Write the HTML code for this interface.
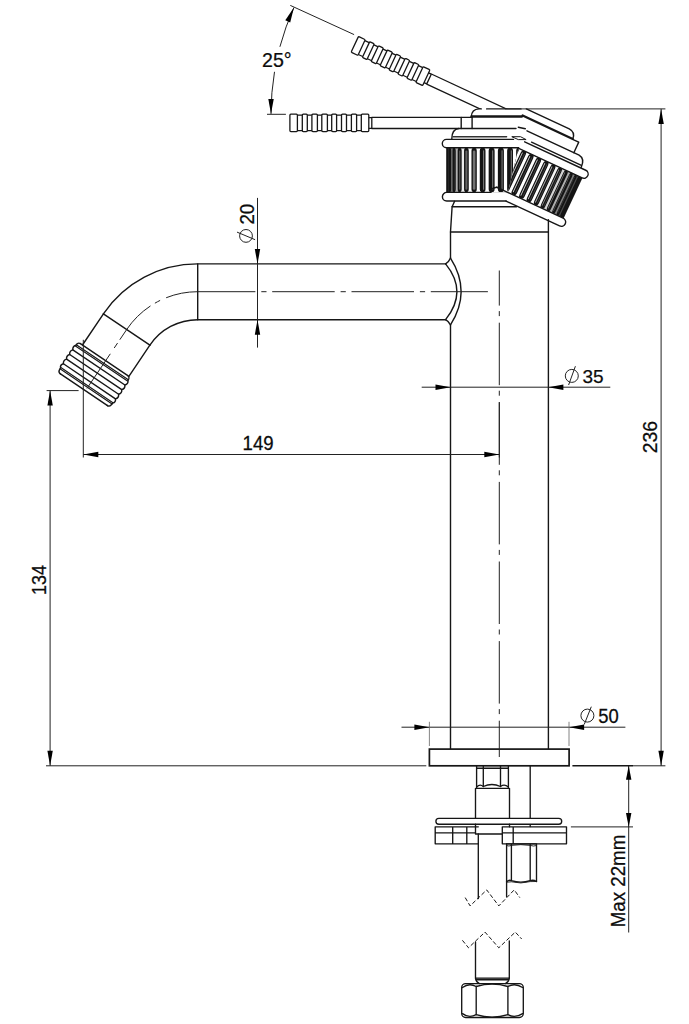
<!DOCTYPE html>
<html><head><meta charset="utf-8"><title>Faucet drawing</title>
<style>html,body{margin:0;padding:0;background:#fff;}svg{display:block;}text{font-family:"Liberation Sans",sans-serif;}</style>
</head><body>
<svg width="689" height="1024" viewBox="0 0 689 1024">
<rect width="689" height="1024" fill="#fff"/>
<defs>
<clipPath id="cpH"><rect x="0" y="0" width="689" height="109"/></clipPath>
<clipPath id="cpK1"><polygon points="440,147.8 518.6,147.8 507.9,192.6 440,192.6"/></clipPath>
<clipPath id="cpK2"><polygon points="518.6,140 620,140 620,250 507.9,250 507.9,192.6 518.6,147.8"/></clipPath>
<clipPath id="cpK2r"><polygon points="482.07,147.43 570.67,97.51 621.39,206.26 519.79,253.64 491.31,192.55"/></clipPath></defs>
<g fill="none" stroke="#161616" stroke-width="1.4" stroke-linecap="round" stroke-linejoin="round">
<path d="M454.6,201.3 L452.1,206.7 H516.5"/>
<path d="M452.1,206.7 L450.5,232 V258.1"/>
<path d="M450.5,324.9 V749.1"/>
<path d="M548.4,219.8 V749.1"/>
<path d="M450.5,232 H548.4"/>
<path d="M450.5,258.1 Q471.7,291.5 450.5,324.9"/>
<path d="M445.6,263.9 Q468.2,291.7 445.6,319.6"/>
<path d="M445.6,263.9 Q449,262 450.5,258.1"/>
<path d="M445.6,319.6 Q449,321.5 450.5,324.9"/>
<path d="M445.6,263.9 H197.7 A113.7,113.7 0 0 0 103.4,313.8"/>
<path d="M445.6,319.7 H197.7 A57.7,57.7 0 0 0 149.9,345.2"/>
<path d="M197.7,263.9 V319.7"/>
<path d="M103.4,313.8 L149.9,345.2"/>
</g>
<rect x="429.4" y="749.1" width="139.7" height="16.7" fill="#fff" stroke="#161616" stroke-width="1.7"/>
<g fill="none" stroke="#161616" stroke-width="1.4" stroke-linecap="round" stroke-linejoin="round">
<path d="M103.44,313.92 L82.47,345.01"/>
<path d="M149.86,345.23 L128.89,376.32"/>
<path d="M80.40,343.61 Q78.74,342.49 77.12,343.81 L75.95,345.20 Q72.39,346.17 72.82,349.84 Q69.26,350.82 69.69,354.48 Q66.13,355.46 66.56,359.12 Q63.00,360.10 63.42,363.77 Q59.98,364.58 60.52,368.08 L59.34,370.18 Q58.19,372.42 60.51,373.98"/>
<path d="M127.82,375.60 Q129.48,376.71 128.85,378.71 L128.01,380.31 Q128.44,383.98 124.88,384.96 Q125.31,388.62 121.75,389.60 Q122.17,393.26 118.62,394.24 Q119.04,397.90 115.49,398.88 Q116.02,402.38 112.58,403.19 L111.07,405.07 Q109.43,406.98 107.10,405.41"/>
<path d="M80.40,343.61 L127.82,375.60"/>
<path d="M76.29,344.70 L128.35,379.82" stroke-width="1.1"/>
<path d="M75.45,345.94 L127.51,381.06" stroke-width="1.1"/>
<path d="M72.82,349.84 L124.88,384.96"/>
<path d="M69.69,354.48 L121.75,389.60"/>
<path d="M66.56,359.12 L118.62,394.24"/>
<path d="M63.42,363.77 L115.49,398.88"/>
<path d="M60.85,367.58 L112.92,402.70" stroke-width="1.1"/>
<path d="M60.01,368.82 L112.08,403.94" stroke-width="1.1"/>
<path d="M60.10,373.70 L107.52,405.69"/>
</g>
<g fill="none" stroke="#222" stroke-width="1.0">
<path d="M487.9,291.7 H197.7" stroke-dasharray="62.5 5.7 5.2 5.9" stroke-dashoffset="5.4"/>
<path d="M197.7,291.7 A85.7,85.7 0 0 0 126.65,329.58 L86.95,388.44" stroke-dasharray="32.3 6.6 5.9 5.2 46 4 6 7 60"/>
<path d="M499.3,270.5 V757" stroke-dasharray="62.5 5.5 5 6.6" stroke-dashoffset="27.4"/>
</g>
<g clip-path="url(#cpK1)"><rect x="446.20" y="147.80" width="106.40" height="44.50" fill="#141414"/>
<path d="M446.17,147.80 Q446.39,148.10 446.39,150.80 V189.30 Q446.39,192.00 446.17,192.30 H446.99 Q446.76,192.00 446.76,189.30 V150.80 Q446.76,148.10 446.99,147.80 Z" fill="#fff" fill-opacity="0.00"/>
<path d="M447.42,147.80 Q447.98,148.10 447.98,150.80 V189.30 Q447.98,192.00 447.42,192.30 H449.46 Q448.91,192.00 448.91,189.30 V150.80 Q448.91,148.10 449.46,147.80 Z" fill="#fff" fill-opacity="0.08"/>
<path d="M450.25,147.80 Q451.13,148.10 451.13,150.80 V189.30 Q451.13,192.00 450.25,192.30 H453.45 Q452.58,192.00 452.58,189.30 V150.80 Q452.58,148.10 453.45,147.80 Z" fill="#fff" fill-opacity="0.39"/>
<path d="M454.58,147.80 Q455.74,148.10 455.74,150.80 V189.30 Q455.74,192.00 454.58,192.30 H458.84 Q457.68,192.00 457.68,189.30 V150.80 Q457.68,148.10 458.84,147.80 Z" fill="#fff" fill-opacity="0.67"/>
<path d="M460.27,147.80 Q461.68,148.10 461.68,150.80 V189.30 Q461.68,192.00 460.27,192.30 H465.46 Q464.04,192.00 464.04,189.30 V150.80 Q464.04,148.10 465.46,147.80 Z" fill="#fff" fill-opacity="0.92"/>
<path d="M467.17,147.80 Q468.77,148.10 468.77,150.80 V189.30 Q468.77,192.00 467.17,192.30 H473.08 Q471.48,192.00 471.48,189.30 V150.80 Q471.48,148.10 473.08,147.80 Z" fill="#fff" fill-opacity="1.00"/>
<path d="M475.19,147.80 Q476.79,148.10 476.79,150.80 V189.30 Q476.79,192.00 475.19,192.30 H481.37 Q479.77,192.00 479.77,189.30 V150.80 Q479.77,148.10 481.37,147.80 Z" fill="#fff" fill-opacity="1.00"/>
<path d="M483.90,147.80 Q485.50,148.10 485.50,150.80 V189.30 Q485.50,192.00 483.90,192.30 H490.26 Q488.66,192.00 488.66,189.30 V150.80 Q488.66,148.10 490.26,147.80 Z" fill="#fff" fill-opacity="1.00"/>
<path d="M493.02,147.80 Q494.62,148.10 494.62,150.80 V189.30 Q494.62,192.00 493.02,192.30 H499.47 Q497.87,192.00 497.87,189.30 V150.80 Q497.87,148.10 499.47,147.80 Z" fill="#fff" fill-opacity="1.00"/>
<path d="M502.30,147.80 Q503.90,148.10 503.90,150.80 V189.30 Q503.90,192.00 502.30,192.30 H508.73 Q507.13,192.00 507.13,189.30 V150.80 Q507.13,148.10 508.73,147.80 Z" fill="#fff" fill-opacity="1.00"/>
<path d="M511.43,147.80 Q513.03,148.10 513.03,150.80 V189.30 Q513.03,192.00 511.43,192.30 H517.75 Q516.15,192.00 516.15,189.30 V150.80 Q516.15,148.10 517.75,147.80 Z" fill="#fff" fill-opacity="1.00"/>
<path d="M520.16,147.80 Q521.76,148.10 521.76,150.80 V189.30 Q521.76,192.00 520.16,192.30 H526.26 Q524.66,192.00 524.66,189.30 V150.80 Q524.66,148.10 526.26,147.80 Z" fill="#fff" fill-opacity="1.00"/>
<path d="M528.23,147.80 Q529.80,148.10 529.80,150.80 V189.30 Q529.80,192.00 528.23,192.30 H533.97 Q532.41,192.00 532.41,189.30 V150.80 Q532.41,148.10 533.97,147.80 Z" fill="#fff" fill-opacity="1.00"/>
<path d="M535.58,147.80 Q536.92,148.10 536.92,150.80 V189.30 Q536.92,192.00 535.58,192.30 H540.49 Q539.15,192.00 539.15,189.30 V150.80 Q539.15,148.10 540.49,147.80 Z" fill="#fff" fill-opacity="0.84"/>
<path d="M541.83,147.80 Q542.90,148.10 542.90,150.80 V189.30 Q542.90,192.00 541.83,192.30 H545.76 Q544.69,192.00 544.69,189.30 V150.80 Q544.69,148.10 545.76,147.80 Z" fill="#fff" fill-opacity="0.58"/>
<path d="M546.78,147.80 Q547.56,148.10 547.56,150.80 V189.30 Q547.56,192.00 546.78,192.30 H549.62 Q548.85,192.00 548.85,189.30 V150.80 Q548.85,148.10 549.62,147.80 Z" fill="#fff" fill-opacity="0.29"/>
<path d="M550.30,147.80 Q550.75,148.10 550.75,150.80 V189.30 Q550.75,192.00 550.30,192.30 H551.96 Q551.50,192.00 551.50,189.30 V150.80 Q551.50,148.10 551.96,147.80 Z" fill="#fff" fill-opacity="0.00"/>
<path d="M552.27,147.80 Q552.39,148.10 552.39,150.80 V189.30 Q552.39,192.00 552.27,192.30 H552.69 Q552.58,192.00 552.58,189.30 V150.80 Q552.58,148.10 552.69,147.80 Z" fill="#fff" fill-opacity="0.00"/>
<rect x="453.93" y="150.40" width="0.46" height="39.30" rx="0.23" fill="rgb(61,61,61)"/>
<rect x="459.03" y="150.40" width="1.30" height="39.30" rx="0.65" fill="rgb(82,82,82)"/>
<rect x="465.39" y="150.40" width="2.03" height="39.30" rx="1.01" fill="rgb(100,100,100)"/>
<rect x="472.83" y="150.40" width="2.61" height="39.30" rx="1.30" fill="rgb(115,115,115)"/>
<rect x="483.37" y="150.40" width="0.7" height="39.30" fill="#fff" fill-opacity="0.65"/>
<rect x="492.42" y="150.40" width="0.7" height="39.30" fill="#fff" fill-opacity="0.65"/>
<rect x="501.68" y="150.40" width="0.7" height="39.30" fill="#fff" fill-opacity="0.65"/>
<rect x="510.85" y="150.40" width="0.7" height="39.30" fill="#fff" fill-opacity="0.65"/>
<rect x="519.67" y="150.40" width="0.7" height="39.30" fill="#fff" fill-opacity="0.65"/>
<rect x="526.01" y="150.40" width="2.44" height="39.30" rx="1.22" fill="rgb(110,110,110)"/>
<rect x="533.76" y="150.40" width="1.81" height="39.30" rx="0.91" fill="rgb(95,95,95)"/>
<rect x="540.50" y="150.40" width="1.05" height="39.30" rx="0.52" fill="rgb(76,76,76)"/></g>
<g fill="none" stroke="#161616" stroke-width="1.4" stroke-linecap="round" stroke-linejoin="round">
<path d="M471.4,116.6 Q471.6,109.3 479,108.9 H481.3 M486.6,108.9 H521"/>
<path d="M471.4,116.5 H522" stroke-width="2.3"/>
<path d="M472.1,116.6 V128.5"/>
<path d="M461.2,117.4 V128.5"/>
<path d="M371.8,117.4 H472.1"/>
<path d="M371.8,128.5 H516"/>
<path d="M451.8,138.8 Q451.9,129.2 458.8,128.5"/>
<path d="M453,136.8 H506.6" stroke="#333"/>
<path d="M513.5,139.4 H446.5 A4.2,4.2 0 0 0 446.5,147.8 H518.6"/>
<path d="M490.8,192.4 H446.7 A4.3,4.3 0 0 0 446.7,201 H506.1"/>
<path d="M490.8,192.4 Q489.6,188.4 496.8,187.2"/>
<path d="M512.2,136.7 H520.5 L526.1,139.6 H518.7 Z" stroke-width="1"/>
<path d="M518.3,127.2 L525.3,128.7"/>
</g>
<g fill="none" stroke="#161616" stroke-width="1.3" stroke-linejoin="round"><path d="M297.4,115.2 H361.3 M297.4,130.6 H361.3"/>
<rect x="289.9" y="114.2" width="7.50" height="17.4" rx="1.0" fill="#fff"/>
<rect x="302.3" y="114.2" width="5.00" height="17.4" rx="1.0" fill="#fff"/>
<rect x="311.9" y="114.2" width="5.50" height="17.4" rx="1.0" fill="#fff"/>
<rect x="321.8" y="114.2" width="5.60" height="17.4" rx="1.0" fill="#fff"/>
<rect x="331.7" y="114.2" width="4.90" height="17.4" rx="1.0" fill="#fff"/>
<rect x="341.5" y="114.2" width="5.00" height="17.4" rx="1.0" fill="#fff"/>
<rect x="351.4" y="114.2" width="5.20" height="17.4" rx="1.0" fill="#fff"/>
<rect x="361.3" y="114.2" width="7.50" height="17.4" rx="1.0" fill="#fff"/>
<path d="M368.8,117.6 H371.8 V128.3 H368.8"/></g>
<g transform="rotate(25 499.5 230.0)">
<g clip-path="url(#cpK2r)"><rect x="446.30" y="147.80" width="106.40" height="44.50" fill="#141414"/>
<path d="M446.25,147.80 Q446.30,148.10 446.30,150.80 V189.30 Q446.30,192.00 446.25,192.30 H446.44 Q446.39,192.00 446.39,189.30 V150.80 Q446.39,148.10 446.44,147.80 Z" fill="#fff" fill-opacity="0.00"/>
<path d="M446.69,147.80 Q447.00,148.10 447.00,150.80 V189.30 Q447.00,192.00 446.69,192.30 H447.83 Q447.52,192.00 447.52,189.30 V150.80 Q447.52,148.10 447.83,147.80 Z" fill="#fff" fill-opacity="0.00"/>
<path d="M448.42,147.80 Q448.99,148.10 448.99,150.80 V189.30 Q448.99,192.00 448.42,192.30 H450.50 Q449.93,192.00 449.93,189.30 V150.80 Q449.93,148.10 450.50,147.80 Z" fill="#fff" fill-opacity="0.08"/>
<path d="M451.42,147.80 Q452.23,148.10 452.23,150.80 V189.30 Q452.23,192.00 451.42,192.30 H454.37 Q453.57,192.00 453.57,189.30 V150.80 Q453.57,148.10 454.37,147.80 Z" fill="#fff" fill-opacity="0.32"/>
<path d="M455.60,147.80 Q456.62,148.10 456.62,150.80 V189.30 Q456.62,192.00 455.60,192.30 H459.36 Q458.33,192.00 458.33,189.30 V150.80 Q458.33,148.10 459.36,147.80 Z" fill="#fff" fill-opacity="0.53"/>
<path d="M460.86,147.80 Q462.08,148.10 462.08,150.80 V189.30 Q462.08,192.00 460.86,192.30 H465.33 Q464.11,192.00 464.11,189.30 V150.80 Q464.11,148.10 465.33,147.80 Z" fill="#fff" fill-opacity="0.72"/>
<path d="M467.07,147.80 Q468.46,148.10 468.46,150.80 V189.30 Q468.46,192.00 467.07,192.30 H472.14 Q470.76,192.00 470.76,189.30 V150.80 Q470.76,148.10 472.14,147.80 Z" fill="#fff" fill-opacity="0.88"/>
<path d="M474.08,147.80 Q475.60,148.10 475.60,150.80 V189.30 Q475.60,192.00 474.08,192.30 H479.63 Q478.12,192.00 478.12,189.30 V150.80 Q478.12,148.10 479.63,147.80 Z" fill="#fff" fill-opacity="1.00"/>
<path d="M481.73,147.80 Q483.33,148.10 483.33,150.80 V189.30 Q483.33,192.00 481.73,192.30 H487.60 Q486.00,192.00 486.00,189.30 V150.80 Q486.00,148.10 487.60,147.80 Z" fill="#fff" fill-opacity="1.00"/>
<path d="M489.85,147.80 Q491.45,148.10 491.45,150.80 V189.30 Q491.45,192.00 489.85,192.30 H495.82 Q494.22,192.00 494.22,189.30 V150.80 Q494.22,148.10 495.82,147.80 Z" fill="#fff" fill-opacity="1.00"/>
<path d="M498.18,147.80 Q499.78,148.10 499.78,150.80 V189.30 Q499.78,192.00 498.18,192.30 H504.16 Q502.56,192.00 502.56,189.30 V150.80 Q502.56,148.10 504.16,147.80 Z" fill="#fff" fill-opacity="1.00"/>
<path d="M506.50,147.80 Q508.10,148.10 508.10,150.80 V189.30 Q508.10,192.00 506.50,192.30 H512.43 Q510.83,192.00 510.83,189.30 V150.80 Q510.83,148.10 512.43,147.80 Z" fill="#fff" fill-opacity="1.00"/>
<path d="M514.63,147.80 Q516.20,148.10 516.20,150.80 V189.30 Q516.20,192.00 514.63,192.30 H520.40 Q518.82,192.00 518.82,189.30 V150.80 Q518.82,148.10 520.40,147.80 Z" fill="#fff" fill-opacity="1.00"/>
<path d="M522.44,147.80 Q523.90,148.10 523.90,150.80 V189.30 Q523.90,192.00 522.44,192.30 H527.81 Q526.34,192.00 526.34,189.30 V150.80 Q526.34,148.10 527.81,147.80 Z" fill="#fff" fill-opacity="0.97"/>
<path d="M529.67,147.80 Q531.00,148.10 531.00,150.80 V189.30 Q531.00,192.00 529.67,192.30 H534.52 Q533.20,192.00 533.20,189.30 V150.80 Q533.20,148.10 534.52,147.80 Z" fill="#fff" fill-opacity="0.82"/>
<path d="M536.17,147.80 Q537.31,148.10 537.31,150.80 V189.30 Q537.31,192.00 536.17,192.30 H540.37 Q539.22,192.00 539.22,189.30 V150.80 Q539.22,148.10 540.37,147.80 Z" fill="#fff" fill-opacity="0.65"/>
<path d="M541.76,147.80 Q542.70,148.10 542.70,150.80 V189.30 Q542.70,192.00 541.76,192.30 H545.21 Q544.27,192.00 544.27,189.30 V150.80 Q544.27,148.10 545.21,147.80 Z" fill="#fff" fill-opacity="0.45"/>
<path d="M546.32,147.80 Q547.03,148.10 547.03,150.80 V189.30 Q547.03,192.00 546.32,192.30 H548.92 Q548.21,192.00 548.21,189.30 V150.80 Q548.21,148.10 548.92,147.80 Z" fill="#fff" fill-opacity="0.23"/>
<path d="M549.72,147.80 Q550.18,148.10 550.18,150.80 V189.30 Q550.18,192.00 549.72,192.30 H551.42 Q550.96,192.00 550.96,189.30 V150.80 Q550.96,148.10 551.42,147.80 Z" fill="#fff" fill-opacity="0.00"/>
<path d="M551.88,147.80 Q552.09,148.10 552.09,150.80 V189.30 Q552.09,192.00 551.88,192.30 H552.65 Q552.44,192.00 552.44,189.30 V150.80 Q552.44,148.10 552.65,147.80 Z" fill="#fff" fill-opacity="0.00"/>
<rect x="450.45" y="150.20" width="0.35" height="39.70" fill="#fff" fill-opacity="0.15"/>
<rect x="454.25" y="150.20" width="0.46" height="39.70" fill="#fff" fill-opacity="0.27"/>
<rect x="459.17" y="150.20" width="0.57" height="39.70" fill="#fff" fill-opacity="0.40"/>
<rect x="465.08" y="150.20" width="0.66" height="39.70" fill="#fff" fill-opacity="0.54"/>
<rect x="467.06" y="150.40" width="0.5" height="39.30" fill="#fff" fill-opacity="0.3"/>
<rect x="471.84" y="150.20" width="0.73" height="39.70" fill="#fff" fill-opacity="0.67"/>
<rect x="474.05" y="150.40" width="0.5" height="39.30" fill="#fff" fill-opacity="0.3"/>
<rect x="479.28" y="150.20" width="0.79" height="39.70" fill="#fff" fill-opacity="0.78"/>
<rect x="481.66" y="150.40" width="0.5" height="39.30" fill="#fff" fill-opacity="0.3"/>
<rect x="487.22" y="150.20" width="0.83" height="39.70" fill="#fff" fill-opacity="0.85"/>
<rect x="489.71" y="150.40" width="0.5" height="39.30" fill="#fff" fill-opacity="0.3"/>
<rect x="495.46" y="150.20" width="0.84" height="39.70" fill="#fff" fill-opacity="0.89"/>
<rect x="498.00" y="150.40" width="0.5" height="39.30" fill="#fff" fill-opacity="0.3"/>
<rect x="503.80" y="150.20" width="0.84" height="39.70" fill="#fff" fill-opacity="0.88"/>
<rect x="506.33" y="150.40" width="0.5" height="39.30" fill="#fff" fill-opacity="0.3"/>
<rect x="512.03" y="150.20" width="0.82" height="39.70" fill="#fff" fill-opacity="0.83"/>
<rect x="514.49" y="150.40" width="0.5" height="39.30" fill="#fff" fill-opacity="0.3"/>
<rect x="519.96" y="150.20" width="0.77" height="39.70" fill="#fff" fill-opacity="0.74"/>
<rect x="522.28" y="150.40" width="0.5" height="39.30" fill="#fff" fill-opacity="0.3"/>
<rect x="527.38" y="150.20" width="0.71" height="39.70" fill="#fff" fill-opacity="0.62"/>
<rect x="529.51" y="150.40" width="0.5" height="39.30" fill="#fff" fill-opacity="0.3"/>
<rect x="534.12" y="150.20" width="0.63" height="39.70" fill="#fff" fill-opacity="0.49"/>
<rect x="540.00" y="150.20" width="0.53" height="39.70" fill="#fff" fill-opacity="0.35"/>
<rect x="544.88" y="150.20" width="0.42" height="39.70" fill="#fff" fill-opacity="0.22"/></g>
<g fill="none" stroke="#161616" stroke-width="1.4" stroke-linecap="round" stroke-linejoin="round">
<path d="M472.6,108.9 H520 Q527.2,109.3 527.4,116.6"/>
<path d="M472.1,116.5 H527.4" stroke-width="2.3"/>
<path d="M527.4,116.9 H534.2 V128.5"/>
<path d="M482.5,128.5 H540 Q547,129.2 547.1,138.8"/>
<path d="M491.4,136.8 H546.4"/>
<path d="M485,139.4 H552.4 A4.2,4.2 0 0 1 552.4,147.8 H482.4"/>
<path d="M479,192.4 H552.2 A4.3,4.3 0 0 1 552.2,201 H493.2"/>
</g>
</g>
<g clip-path="url(#cpH)"><g transform="rotate(25 499.5 230.0)" fill="none" stroke="#161616" stroke-width="1.3" stroke-linejoin="round">
<path d="M297.4,115.2 H361.3 M297.4,130.6 H361.3"/>
<rect x="289.9" y="114.2" width="7.50" height="17.4" rx="1.0" fill="#fff"/>
<rect x="302.3" y="114.2" width="5.00" height="17.4" rx="1.0" fill="#fff"/>
<rect x="311.9" y="114.2" width="5.50" height="17.4" rx="1.0" fill="#fff"/>
<rect x="321.8" y="114.2" width="5.60" height="17.4" rx="1.0" fill="#fff"/>
<rect x="331.7" y="114.2" width="4.90" height="17.4" rx="1.0" fill="#fff"/>
<rect x="341.5" y="114.2" width="5.00" height="17.4" rx="1.0" fill="#fff"/>
<rect x="351.4" y="114.2" width="5.20" height="17.4" rx="1.0" fill="#fff"/>
<rect x="361.3" y="114.2" width="7.50" height="17.4" rx="1.0" fill="#fff"/>
<path d="M368.8,117.6 H371.8 V128.3 H368.8"/>
<path d="M371.8,117.4 H472.1 M371.8,128.5 H472"/>
</g></g>
<g fill="none" stroke="#161616" stroke-width="1.35" stroke-linejoin="round" stroke-linecap="round">
<path d="M476.6,765.9 V788.3 M508.4,765.9 V788.3 M483.3,765.9 V786.5 M500.5,765.9 V786.5"/>
<path d="M476.6,788.3 H508.4 M476.6,768.2 H508.4"/>
<path d="M476.6,787 Q480,783.6 483.3,786.5 Q491.9,782.6 500.5,786.5 Q504.4,783.6 508.4,787"/>
<path d="M475.5,788.3 V818.3 M509.5,788.3 V818.3"/>
<path d="M530.2,765.9 V826.6"/>
<rect x="435.9" y="818.3" width="125.8" height="5.9" rx="2.95" fill="#fff"/>
<path d="M478.3,826.8 H435.2 V843.8 H478.3 M435.2,832.9 H475.5 M452.7,826.8 V843.8 M466.8,826.8 V843.8"/>
<path d="M475.5,824.2 V834 H502.3 M509.5,824.2 V826.8"/>
<path d="M502.3,826.8 H566.5 V843.8 H502.3 Z M502.3,832.9 H566.5 M513.2,826.8 V843.8"/>
<path d="M478.3,834 V898.5 M506.6,843.8 V896.5"/>
<path d="M506.6,843.8 H536.5 V881.5 M511.4,843.8 V880.6 M530.2,843.8 V880.6"/>
<path d="M506.6,845.6 Q509,846.6 511.4,845.4 Q520.8,843.9 530.2,845.4 Q533.4,846.6 536.5,845.6" stroke-width="0.9"/>
<path d="M506.6,881.8 Q509,879.5 511.4,880.6 Q520.8,883.6 530.2,880.6 Q533.5,879.6 536.5,881.5"/>
<path d="M506.6,882.2 L511.4,881.8 Q520.8,884.2 530.2,881.6 L536.5,881.5" stroke-width="0.9"/>
<path d="M475.5,942 V978.1 M509.3,941 V978.1 M475.5,978.1 H509.3"/>
<path d="M475.5,978.1 Q476,982 479.5,983.6 M509.3,978.1 Q508.8,982 505.3,983.6"/>
<path d="M476.2,979.6 H508.6" stroke-width="1.6"/>
<rect x="461.7" y="983.6" width="61.6" height="33.9" rx="4" />
<path d="M476.2,986.5 V1014.6 M507.9,986.5 V1014.6"/>
<path d="M462.5,987.5 Q469,982.6 476.2,986.5 Q492,981.5 507.9,986.5 Q515,982.6 522.6,987.5"/>
<path d="M462.5,1013.6 Q469,1018.5 476.2,1014.6 Q492,1019.6 507.9,1014.6 Q515,1018.5 522.6,1013.6"/>
</g>
<g fill="none" stroke="#161616" stroke-width="1" stroke-dasharray="4.2 2.2">
<path d="M465.2,897.6 L470.1,905.9 L486.7,889.9 L498.8,905.9 L514.2,889.9 L519.8,897.6"/>
<path d="M462.4,940.3 L468.5,947.8 L485,932.1 L498.8,947.8 L515.3,932.1 L521.7,939"/>
</g>
<g fill="none" stroke="#222" stroke-width="1.0">
<path d="M505,108.9 H665.4"/>
<path d="M661.1,108.9 V765.8"/>
<path d="M633,765.8 H665.4"/>
<path d="M46.6,390.6 H78.6"/>
<path d="M50.1,390.6 V765.8"/>
<path d="M46,765.8 H426.3"/>
<path d="M83.3,339.8 V457.5"/>
<path d="M83.3,454.5 H499.3"/>
<path d="M499.3,402 V457.5"/>
<path d="M421.7,387.2 H610.3"/>
<path d="M401.5,727.2 H625.4"/>
<path d="M429.4,721.8 V746" stroke="#666" stroke-width="0.8"/>
<path d="M569,721.8 V746" stroke="#666" stroke-width="0.8"/>
<path d="M257.5,197.9 V347.6"/>
<path d="M628.7,765.8 V932.5"/>
<path d="M570.9,826.9 H633"/>
<path d="M290.3,5.4 L354.1,34.6"/>
<path d="M267,114.3 H285.9"/>
<path d="M293.9,7.6 A260,260 0 0 0 279.9,46.8"/>
<path d="M274.5,71.8 A260,260 0 0 0 271,113.9"/>
</g>
<path d="M572.4,765.8 H633" fill="none" stroke="#161616" stroke-width="1.5"/>
<polygon points="661.10,108.90 663.80,123.90 658.40,123.90" fill="#000"/>
<polygon points="661.10,765.80 658.40,750.80 663.80,750.80" fill="#000"/>
<polygon points="50.10,390.60 52.80,405.60 47.40,405.60" fill="#000"/>
<polygon points="50.10,765.80 47.40,750.80 52.80,750.80" fill="#000"/>
<polygon points="83.30,454.50 98.30,451.80 98.30,457.20" fill="#000"/>
<polygon points="499.30,454.50 484.30,457.20 484.30,451.80" fill="#000"/>
<polygon points="450.50,387.20 435.50,389.90 435.50,384.50" fill="#000"/>
<polygon points="548.40,387.20 563.40,384.50 563.40,389.90" fill="#000"/>
<polygon points="429.40,727.20 414.40,729.90 414.40,724.50" fill="#000"/>
<polygon points="569.10,727.20 584.10,724.50 584.10,729.90" fill="#000"/>
<polygon points="257.50,263.90 254.80,248.90 260.20,248.90" fill="#000"/>
<polygon points="257.50,319.70 260.20,334.70 254.80,334.70" fill="#000"/>
<polygon points="628.70,765.80 631.40,779.80 626.00,779.80" fill="#000"/>
<polygon points="628.70,826.90 626.00,812.90 631.40,812.90" fill="#000"/>
<polygon points="293.90,7.60 290.21,22.39 285.28,20.17" fill="#000"/>
<polygon points="271.00,113.90 268.32,98.90 273.72,98.90" fill="#000"/>
<g font-family="Liberation Sans, sans-serif" fill="#0c0c0c" stroke="#0c0c0c" stroke-width="0.25">
<text transform="translate(242.6,450.0) rotate(0) scale(0.95,1)" font-size="19.6">149</text>
<text transform="translate(46.0,594.9) rotate(-90) scale(0.905,1)" font-size="19.8">134</text>
<text transform="translate(657.4,453.2) rotate(-90) scale(0.93,1)" font-size="20.8">236</text>
<text transform="translate(582.5,382.8) rotate(0) scale(1.0,1)" font-size="19.0">35</text>
<text transform="translate(598.3,722.7) rotate(0) scale(0.95,1)" font-size="19.4">50</text>
<text transform="translate(253.9,224.6) rotate(-90) scale(0.93,1)" font-size="20.2">20</text>
<text transform="translate(262.0,67.0) rotate(0) scale(0.99,1)" font-size="19.8">25°</text>
<text transform="translate(625.0,927.3) rotate(-90) scale(0.918,1)" font-size="20.4">Max 22mm</text>
</g>
<g fill="none" stroke="#222" stroke-width="1">
<circle cx="571.8" cy="375.9" r="6.5"/><path d="M568.6,385 L575.4,366.2"/>
<circle cx="587.4" cy="715.6" r="6.5"/><path d="M584.2,724.5 L591.3,706.7"/>
<circle cx="246.0" cy="235.9" r="6.4"/><path d="M237,232.1 L255.1,239.7"/>
</g>
</svg>
</body></html>
